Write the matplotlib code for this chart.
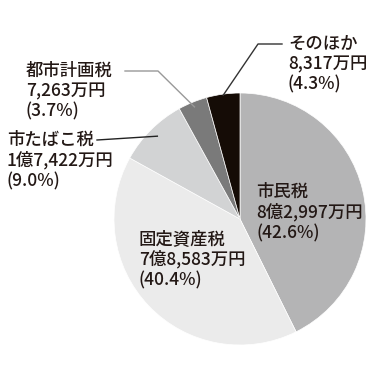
import numpy as np
import matplotlib
matplotlib.use("Agg")
import matplotlib.pyplot as plt

plt.rcParams['font.family'] = ['Noto Sans CJK JP', 'DejaVu Sans']

# 税目ごとの金額（万円）
names = ['市民税', '固定資産税', '市たばこ税', '都市計画税', 'そのほか']
amounts = [82997, 78583, 17422, 7263, 8317]
amount_labels = ['8億2,997万円', '7億8,583万円', '1億7,422万円', '7,263万円', '8,317万円']
pct_labels = ['(42.6%)', '(40.4%)', '(9.0%)', '(3.7%)', '(4.3%)']
colors = ['#b4b4b5', '#ebebeb', '#d2d3d4', '#7a7a7a', '#150c06']

W, H = 392, 365
fig = plt.figure(figsize=(W / 100, H / 100), dpi=100)
ax = fig.add_axes([0, 0, 1, 1])

cx, cy, R = 240, H - 219, 126
wedges, _ = ax.pie(amounts, colors=colors, startangle=90, counterclock=False,
                   center=(cx, cy), radius=R, frame=True,
                   wedgeprops=dict(edgecolor='white', linewidth=0.5))
ax.set_xlim(0, W)
ax.set_ylim(0, H)
ax.set_aspect('equal')
ax.axis('off')


def edge_point(w, r):
    a = np.deg2rad((w.theta1 + w.theta2) / 2)
    return cx + r * np.cos(a), cy + r * np.sin(a)


tc = '#231815'
fs = 12.5


def label(i, x, ytop):
    ax.text(x, H - ytop, names[i] + '\n' + amount_labels[i] + '\n' + pct_labels[i],
            fontsize=fs, color=tc, va='top', ha='left', linespacing=1.16,
            fontweight='medium')


# leader lines
px, py = edge_point(wedges[4], 125)
ax.plot([px, 258, 282], [py, H - 44, H - 44], color='#333333', lw=1)
px, py = edge_point(wedges[3], 121)
ax.plot([125, 158, px], [H - 71, H - 71, py], color='#999999', lw=1)
px, py = edge_point(wedges[2], 117)
ax.plot([97, px], [H - 140, py], color='#222222', lw=1)

label(4, 288, 35)
label(3, 26, 62)
label(2, 7, 131)
label(0, 256, 183)
label(1, 139, 230)

fig.savefig('out.png', dpi=100)
